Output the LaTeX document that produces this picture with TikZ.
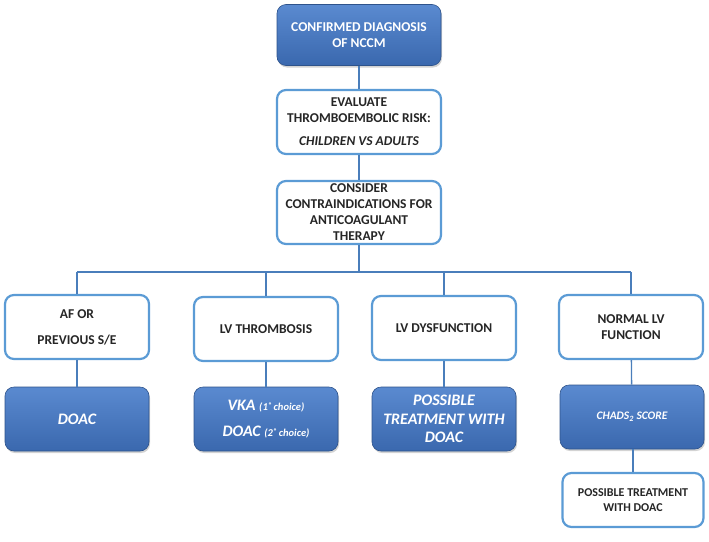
\documentclass[tikz,border=0pt]{standalone}
\usepackage{fontspec}
\setmainfont{Carlito}
\usetikzlibrary{shadows}
\definecolor{boxline}{HTML}{5B9BD5}
\definecolor{linkline}{HTML}{4A7EBB}
\definecolor{bluetop}{HTML}{5A8AD0}
\definecolor{bluebot}{HTML}{3A68AE}
\begin{document}
\begin{tikzpicture}[
        x=1pt,
        y=-1pt,
        font=\bfseries\fontsize{13.5}{16}\selectfont
    ]
    \tikzset{
        boxw/.style = {rectangle, rounded corners=9pt, draw=boxline, line width=2.2pt,
                       fill=white, align=center, text=black!85,
                       minimum width=144pt, minimum height=64pt, inner sep=2pt},
        boxb/.style = {rectangle, rounded corners=9pt, draw=bluebot!80!black, line width=0.6pt,
                       top color=bluetop, bottom color=bluebot, align=center, text=white,
                       minimum width=144pt, minimum height=64pt, inner sep=2pt,
                       drop shadow={shadow xshift=1pt, shadow yshift=-2pt, opacity=0.35}},
        bigit/.style = {font=\bfseries\itshape\fontsize{16}{19}\selectfont},
        link/.style = {-, draw=linkline, line width=1.3pt},
    }
    \newcommand{\choicetxt}[1]{{\fontsize{10.5}{12}\selectfont(#1 choice)}}
    \useasboundingbox (0,0) rectangle (709,541);
        % top of the chart
        \node[boxb, minimum width=164pt, minimum height=61pt] at (359,35) (diag) {CONFIRMED DIAGNOSIS\\OF NCCM};
        \node[boxw, minimum width=164pt, minimum height=64pt] at (359,122) (risk)
            {EVALUATE\\THROMBOEMBOLIC RISK:\\[7pt]\textit{CHILDREN VS ADULTS}};
        \node[boxw, minimum width=164pt, minimum height=63pt] at (359,212.5) (contra)
            {CONSIDER\\CONTRAINDICATIONS FOR\\ANTICOAGULANT\\THERAPY};
        \coordinate (split) at (359,272);
        %
        \node[boxw] at (77,327) (af) {AF OR\\[10pt]PREVIOUS S/E};
        \node[boxw] at (266,329) (thromb) {LV THROMBOSIS};
        \node[boxw] at (444,328) (dysf) {LV DYSFUNCTION};
        \node[boxw] at (631,327) (normal) {NORMAL LV\\FUNCTION};
        %
        \node[boxb, bigit] at (77,419) (doac) {DOAC};
        \node[boxb, bigit] at (266,419) (vka)
            {VKA \choicetxt{1˚}\\[7pt]DOAC \choicetxt{2˚}};
        \node[boxb, bigit, font=\bfseries\itshape\fontsize{16}{18.5}\selectfont] at (444,419) (treat)
            {POSSIBLE\\TREATMENT WITH\\DOAC};
        \node[boxb, font=\bfseries\itshape\fontsize{11.5}{13}\selectfont] at (632,417) (chads) {CHADS\textsubscript{2} SCORE};
        %
        \node[boxw, minimum width=141pt, minimum height=54pt,
              font=\bfseries\fontsize{12}{14.5}\selectfont] at (633,500) (final)
            {POSSIBLE TREATMENT\\WITH DOAC};
        %
        \draw[link] (diag) -- (risk);
        \draw[link] (risk) -- (contra);
        \draw[link] (contra) -- (split);
        \draw[link] (af.north |- split) -- (normal.north |- split);
        %
        \draw[link] (af.north |- split) -- (af);
        \draw[link] (thromb.north |- split) -- (thromb);
        \draw[link] (dysf.north |- split) -- (dysf);
        \draw[link] (normal.north |- split) -- (normal);
        %
        \draw[link] (af) -- (doac);
        \draw[link] (thromb) -- (vka);
        \draw[link] (dysf) -- (treat);
        \draw[link] (normal) -- (chads);
        \draw[link] (chads.south -| final) -- (final);
    \end{tikzpicture}
\end{document}
